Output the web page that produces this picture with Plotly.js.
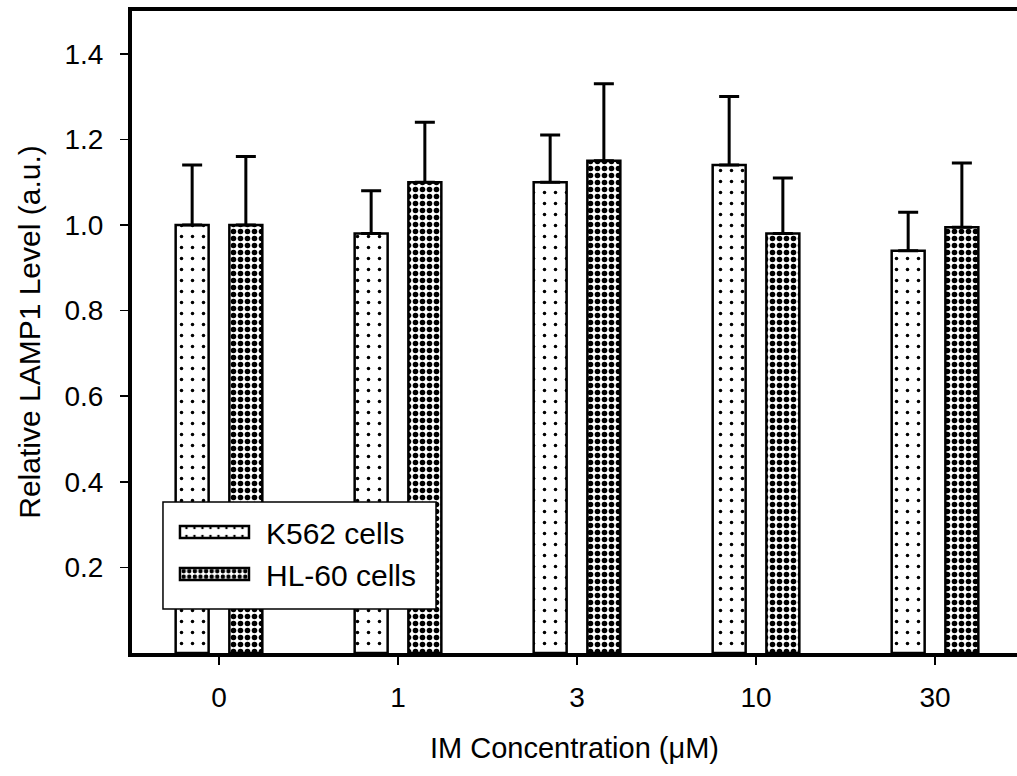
<!DOCTYPE html>
<html>
<head>
<meta charset="utf-8">
<script src="https://cdn.plot.ly/plotly-3.0.1.min.js"></script>
<style>html,body{margin:0;padding:0;background:#fff;}</style>
</head>
<body>
<div id="chart" style="width:1017px;height:776px;"></div>
<script>
// ---- data ----
const concentrations = ["0", "1", "3", "10", "30"];
const k562Values = [1.00, 0.98, 1.10, 1.14, 0.94];
const k562Errors = [0.14, 0.10, 0.11, 0.16, 0.09];
const hl60Values = [1.00, 1.10, 1.15, 0.98, 0.995];
const hl60Errors = [0.16, 0.14, 0.18, 0.13, 0.15];
const yTickVals = [0.2, 0.4, 0.6, 0.8, 1.0, 1.2, 1.4];
const seriesNames = ["K562 cells", "HL-60 cells"];

const FONT = "Liberation Sans, Arial, sans-serif";
const zeros = k562Values.map(() => 0);

const traces = [
  {
    type: "bar", name: seriesNames[0], x: concentrations, y: k562Values,
    legendgroup: "a",
    marker: {
      color: "white",
      line: {color: "black", width: 2.5},
      pattern: {shape: ".", fgcolor: "black", bgcolor: "white", size: 11, solidity: 0.08}
    },
    error_y: {type: "data", symmetric: false, array: k562Errors, arrayminus: zeros,
              color: "black", thickness: 3, width: 10}
  },
  {
    type: "bar", name: seriesNames[1], x: concentrations, y: hl60Values,
    legendgroup: "b",
    marker: {
      color: "white",
      line: {color: "black", width: 2.5},
      pattern: {shape: ".", fgcolor: "black", bgcolor: "white", size: 7, solidity: 0.5}
    },
    error_y: {type: "data", symmetric: false, array: hl60Errors, arrayminus: zeros,
              color: "black", thickness: 3, width: 10}
  }
];

const layout = {
  width: 1017, height: 776,
  margin: {l: 132, r: 0, t: 11, b: 123},
  paper_bgcolor: "white", plot_bgcolor: "white",
  font: {family: FONT, color: "black", size: 28},
  barmode: "group", bargap: 0.4, bargroupgap: 0.386,
  showlegend: true,
  legend: {
    x: 0.035, xanchor: "left", y: 0.229, yanchor: "top",
    bgcolor: "rgba(0,0,0,0)", borderwidth: 0,
    font: {family: FONT, size: 30, color: "black"},
    itemwidth: 93, tracegroupgap: 6, traceorder: "normal"
  },
  xaxis: {
    type: "category", range: [-0.486, 4.458],
    showline: true, linecolor: "black", linewidth: 4, mirror: true,
    ticks: "outside", ticklen: 8, tickwidth: 1.5, tickcolor: "black",
    ticklabelstandoff: 8,
    showgrid: false, zeroline: false,
    tickfont: {family: FONT, size: 28},
    title: {text: "IM Concentration (μM)", font: {family: FONT, size: 29}, standoff: 27}
  },
  yaxis: {
    range: [0, 1.5],
    showline: true, linecolor: "black", linewidth: 4, mirror: false,
    ticks: "outside", ticklen: 8, tickwidth: 1.5, tickcolor: "black",
    ticklabelstandoff: 11,
    tickvals: yTickVals, tickformat: ".1f",
    showgrid: false, zeroline: false,
    tickfont: {family: FONT, size: 28},
    title: {text: "Relative LAMP1 Level (a.u.)", font: {family: FONT, size: 30}, standoff: 16}
  },
  shapes: [{
    type: "rect", xref: "paper", yref: "paper",
    x0: 0.035, x1: 0.3435, y0: 0.0685, y1: 0.2352,
    fillcolor: "white", line: {color: "black", width: 1.5}, layer: "above"
  }]
};

Plotly.newPlot("chart", traces, layout, {displayModeBar: false, staticPlot: true}).then(gd => {
  gd.querySelectorAll(".legend .legendpoints path").forEach(p => {
    p.setAttribute("d", "M34.5,6H-34.5V-6H34.5Z");
  });
});
</script>
</body>
</html>
